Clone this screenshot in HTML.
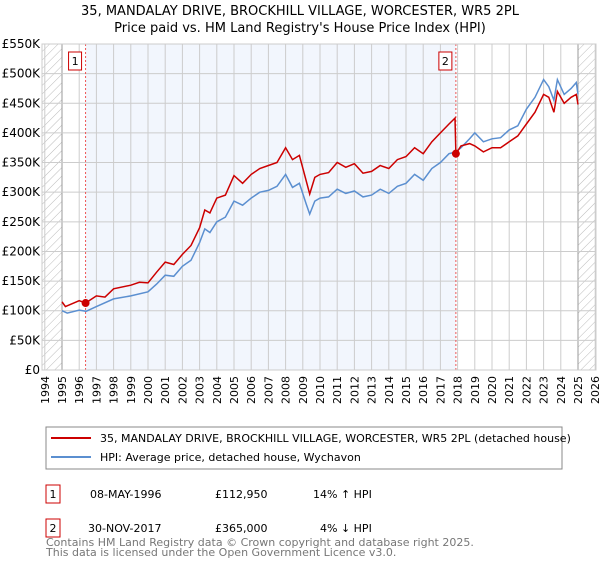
<!DOCTYPE html>
<html><head><meta charset="utf-8"><style>
body{margin:0;background:#fff;font-family:"DejaVu Sans","Liberation Sans",sans-serif;}
svg text{font-family:"DejaVu Sans","Liberation Sans",sans-serif;}
</style></head><body>
<svg id="c" width="600" height="560" xmlns="http://www.w3.org/2000/svg">
<defs><pattern id="h" width="6" height="6" patternUnits="userSpaceOnUse" patternTransform="rotate(45)"><line x1="0" y1="0" x2="0" y2="6" stroke="#bbb" stroke-width="1"/></pattern></defs>
<text x="300" y="15" text-anchor="middle" font-size="13">35, MANDALAY DRIVE, BROCKHILL VILLAGE, WORCESTER, WR5 2PL</text>
<text x="300" y="32" text-anchor="middle" font-size="13">Price paid vs. HM Land Registry's House Price Index (HPI)</text>
<g id="plot"></g>
<rect x="46" y="427" width="516" height="42" fill="#fff" stroke="#888"/>
<line x1="51" y1="438" x2="91" y2="438" stroke="#cc0000" stroke-width="2"/>
<text x="100" y="442" font-size="11">35, MANDALAY DRIVE, BROCKHILL VILLAGE, WORCESTER, WR5 2PL (detached house)</text>
<line x1="51" y1="457" x2="91" y2="457" stroke="#5b8fd0" stroke-width="2"/>
<text x="100" y="461" font-size="11">HPI: Average price, detached house, Wychavon</text>
<g font-size="11">
<rect x="46" y="485" width="14" height="18" fill="#fff" stroke="#cc0000"/><text x="53" y="498" text-anchor="middle">1</text>
<text x="90" y="498">08-MAY-1996</text><text x="215" y="498">£112,950</text><text x="313" y="498">14% ↑ HPI</text>
<rect x="46" y="519" width="14" height="18" fill="#fff" stroke="#cc0000"/><text x="53" y="532" text-anchor="middle">2</text>
<text x="88" y="532">30-NOV-2017</text><text x="215" y="532">£365,000</text><text x="320" y="532">4% ↓ HPI</text>
</g>
<text x="46" y="546" font-size="11" fill="#777">Contains HM Land Registry data © Crown copyright and database right 2025.</text>
<text x="46" y="556" font-size="11" fill="#777">This data is licensed under the Open Government Licence v3.0.</text>
</svg>
<script>
const yTicks=[0,50,100,150,200,250,300,350,400,450,500,550];
const yTickLabels=["£0","£50K","£100K","£150K","£200K","£250K","£300K","£350K","£400K","£450K","£500K","£550K"];
const years=[1994,1995,1996,1997,1998,1999,2000,2001,2002,2003,2004,2005,2006,2007,2008,2009,2010,2011,2012,2013,2014,2015,2016,2017,2018,2019,2020,2021,2022,2023,2024,2025,2026];
const hpiT=[1995.0,1995.3,1996,1996.4,1997,1998,1999,2000,2000.5,2001,2001.5,2002,2002.5,2003,2003.3,2003.6,2004,2004.5,2005,2005.5,2006,2006.5,2007,2007.5,2008,2008.4,2008.8,2009.2,2009.4,2009.7,2010,2010.5,2011,2011.5,2012,2012.5,2013,2013.5,2014,2014.5,2015,2015.5,2016,2016.5,2017,2017.5,2017.9,2018.2,2018.7,2019,2019.5,2020,2020.5,2021,2021.5,2022,2022.5,2023,2023.3,2023.6,2023.8,2024.2,2024.6,2024.9,2025];
const hpiV=[100,96,101,99,107,120,125,132,145,160,158,175,185,215,238,232,250,258,285,278,290,300,303,310,330,308,315,280,263,285,290,292,305,298,302,292,295,305,298,310,315,330,320,340,350,365,368,375,390,400,385,390,392,405,412,440,460,490,478,455,490,465,475,485,465];
const redT=[1995,1995.2,1996,1996.37,1997,1997.5,1998,1999,1999.5,2000,2000.5,2001,2001.5,2002,2002.5,2003,2003.3,2003.6,2004,2004.5,2005,2005.5,2006,2006.5,2007,2007.5,2008,2008.4,2008.8,2009.1,2009.4,2009.7,2010,2010.5,2011,2011.5,2012,2012.5,2013,2013.5,2014,2014.5,2015,2015.5,2016,2016.5,2017,2017.5,2017.85,2017.9,2018.2,2018.7,2019,2019.5,2020,2020.5,2021,2021.5,2022,2022.5,2023,2023.3,2023.6,2023.8,2024.2,2024.6,2024.9,2025];
const redV=[115,107,117,113,125,123,137,143,148,147,165,182,178,195,210,240,270,265,290,295,328,315,330,340,345,350,375,355,362,330,297,325,330,333,350,342,348,332,335,345,340,355,360,375,365,385,400,415,425,365,378,382,378,368,375,375,385,395,415,435,465,460,435,470,450,460,465,448];
const salesT=[1996.37,2017.9];
const salesV=[112.95,365];
const ns="http://www.w3.org/2000/svg";
const L=42,R=596,T=44,B=370;
const X=t=>62+(t-1995)*17.2;
const Y=v=>B-(v/550)*(B-T);
const g=document.getElementById('plot');
function mk(tag,attrs){const e=document.createElementNS(ns,tag);for(const k in attrs)e.setAttribute(k,attrs[k]);g.appendChild(e);return e;}
let e;
e=mk('rect',{x:L,y:T,width:R-L,height:B-T,fill:'#fff'});


e=mk('rect',{x:X(salesT[0]),y:T,width:X(salesT[1])-X(salesT[0]),height:B-T,fill:'#f2f6fd'});


e=mk('rect',{x:L,y:T,width:X(1995)-L,height:B-T,fill:'url(#h)'});


e=mk('rect',{x:X(2025),y:T,width:R-X(2025),height:B-T,fill:'url(#h)'});


years.forEach(y=>{
 const x=X(y);
 if(x>=L&&x<=R){e=mk('line',{x1:x,y1:T,x2:x,y2:B,stroke:(y==1995||y==2025)?'#999':'#ccc','stroke-width':1});
 
 }
 e=mk('text',{x:0,y:0,'font-size':11,'text-anchor':'end',transform:`translate(${x+4},${B+6}) rotate(-90)`});
 e.textContent=y;
 
 
});
yTicks.forEach((v,i)=>{
 e=mk('line',{x1:L,y1:Y(v),x2:R,y2:Y(v),stroke:'#ccc','stroke-width':1});
 
 
 e=mk('text',{x:L-2,y:Y(v)+4,'font-size':12,'text-anchor':'end'});
 e.textContent=yTickLabels[i];
 
 
});
salesT.forEach((t,i)=>{
 e=mk('line',{x1:X(t),y1:T,x2:X(t),y2:B,stroke:'#e55','stroke-width':1,'stroke-dasharray':'2,2'});
 
 
});
const pts=(ts,vs)=>ts.map((t,i)=>X(t).toFixed(1)+','+Y(vs[i]).toFixed(1)).join(' ');
e=mk('polyline',{points:pts(hpiT,hpiV),fill:'none',stroke:'#5b8fd0','stroke-width':1.5});


e=mk('polyline',{points:pts(redT,redV),fill:'none',stroke:'#cc0000','stroke-width':1.5});


salesT.forEach((t,i)=>{
 e=mk('circle',{cx:X(t),cy:Y(salesV[i]),r:4,fill:'#cc0000'});
 
 
 const bx=X(t)-17;
 e=mk('rect',{x:bx,y:52,width:13,height:18,fill:'#fff',stroke:'#cc0000'});
 
 
 e=mk('text',{x:bx+6.5,y:65,'font-size':11,'text-anchor':'middle'});
 e.textContent=i+1;
 
 
});
e=mk('rect',{x:L,y:T,width:R-L,height:B-T,fill:'none',stroke:'#ccc'});


</script>
</body></html>
